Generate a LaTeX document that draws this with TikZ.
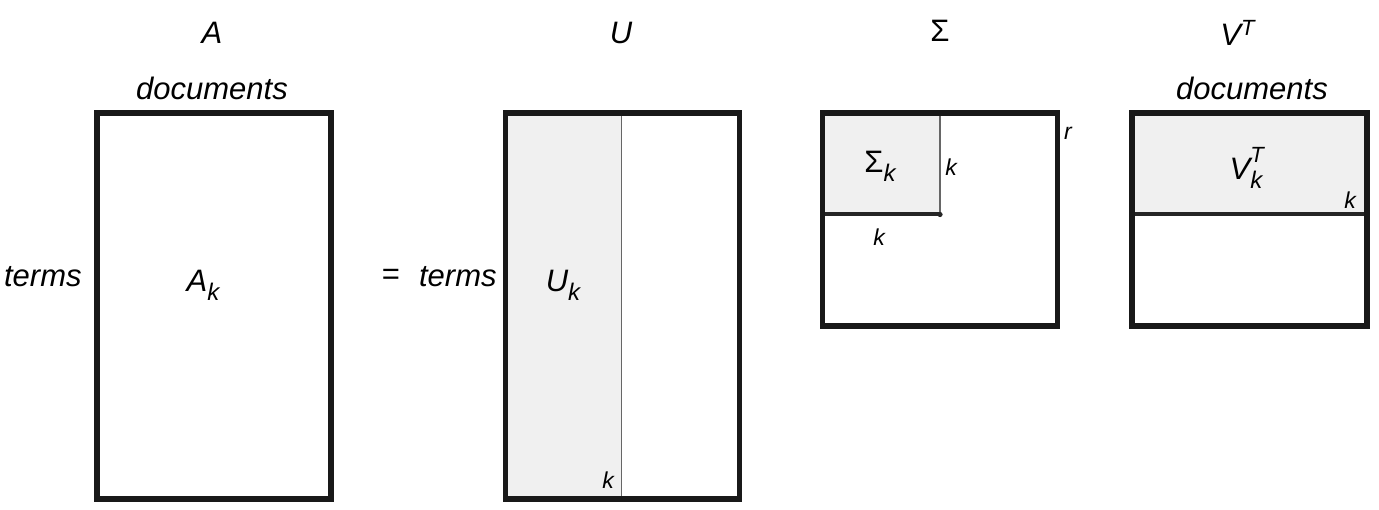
\documentclass[tikz,border=0pt]{standalone}
\usepackage{fontspec}
\setmainfont{Liberation Sans}
\usepackage{tikz}
\usetikzlibrary{positioning}
\newcommand{\lowidx}[1]{\raisebox{-0.55ex}{\fontsize{12}{12}\selectfont #1}}
\newcommand{\supidx}[2]{\makebox[0pt][l]{\raisebox{1.0ex}{\fontsize{11}{11}\selectfont #1}}\raisebox{-0.55ex}{\fontsize{12}{12}\selectfont #2}}

\begin{document}
\begin{tikzpicture}
  [x=0.5pt,y=-0.5pt,
   every node/.style={inner sep=0pt,font=\fontsize{15.5}{18}\selectfont\itshape},
   small/.style={font=\fontsize{11.5}{13}\selectfont\itshape},
   frame/.style={draw=black!90,line width=2.6pt},
   shade/.style={fill=black!6},
   thin/.style={draw=black!60,line width=0.8pt},
   split/.style={draw=black!85,line width=1.7pt}]
  \useasboundingbox (0,0) rectangle (1379,509);

  % shaded parts
  \fill[shade] (505.5,113) rectangle (621.5,499);
  \fill[shade] (822.5,113) rectangle (940,214);
  \fill[shade] (1132,113) rectangle (1367,214);

  % inner lines
  \draw[thin] (621.5,113) -- (621.5,499);
  \draw[thin] (940,113) -- (940,214);
  \draw[split] (822.5,214) -- (940,214);
  \fill[black!85] (940,214.5) circle (1.3pt);
  \draw[split] (1132,214) -- (1367,214);

  % frames
  \draw[frame] (97,113) rectangle (331,499);
  \draw[frame] (505.5,113) rectangle (739.5,499);
  \draw[frame] (822.5,113) rectangle (1057.5,326);
  \draw[frame] (1132,113) rectangle (1367,326);

  % titles
  \node (tA) at (212,33) {A};
  \node (tU) at (621,33) {U};
  \node (tS) at (940,31) {\upshape Σ};
  \node (tV) at (1238,33) {V\textsuperscript{\fontsize{11}{11}\selectfont T}};

  \node (docA) at (212,88) {documents};
  \node (docV) at (1252,88) {documents};
  \node[anchor=east] (termsA) at (82,277) {terms};
  \node (eq) at (391,277) {\upshape =};
  \node[anchor=east] (termsU) at (497,277) {terms};

  % blocks
  \node (Ak) at (203,285) {A\lowidx{k}};
  \node (Uk) at (563,285) {U\lowidx{k}};
  \node (Sk) at (880,166) {{\upshape Σ}\lowidx{k}};
  \node (Vk) at (1246,168) {V\supidx{T}{k}};

  % sizes
  \foreach \nm/\x/\y in {kU/608/480,kSr/951/167,kSb/879/237,kV/1350/200}
    \node[small] (\nm) at (\x,\y) {k};
  \node[small] (r) at (1068,133) {r};
\end{tikzpicture}
\end{document}
